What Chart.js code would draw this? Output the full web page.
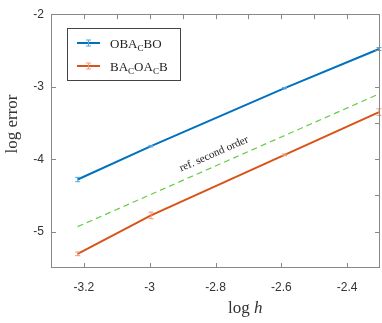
<!DOCTYPE html>
<html>
<head>
<meta charset="utf-8">
<script src="https://cdn.jsdelivr.net/npm/chart.js@4.4.0/dist/chart.umd.min.js"></script>
<style>
  html, body { margin: 0; padding: 0; background: #fff; }
</style>
</head>
<body>
<canvas id="chart" width="382" height="323"></canvas>
<script>
// x = log h, y = log error
const logH = [-3.219, -2.996, -2.590, -2.303];
const errOBACBO = [-4.28, -3.82, -3.02, -2.48];
const errBACOACB = [-5.305, -4.775, -3.94, -3.35];
// half heights of the small error bars
const barOBACBO = [0.03, 0.01, 0.01, 0.02];
const barBACOACB = [0.025, 0.045, 0.012, 0.045];
// reference second order line
const refX = [-3.219, -2.303];
const refY = [-4.93, -3.10];

const xTicks = [-3.2, -3, -2.8, -2.6, -2.4];
const xTicksTop = [-3.2, -3.1, -3, -2.9, -2.8, -2.7, -2.6, -2.5, -2.4];
const yTicks = [-5, -4, -3, -2];
const yTicksRight = [-5, -4.5, -4, -3.5, -3, -2.5];

// legend labels, [text, isSubscript]
const legendLabels = [
  [["OBA", 0], ["C", 1], ["BO", 0]],
  [["BA", 0], ["C", 1], ["OA", 0], ["C", 1], ["B", 0]],
];

const SERIF = "'Liberation Serif', 'Times New Roman', serif";
const SANS = "'Liberation Sans', Arial, sans-serif";

function toPoints(xs, ys) {
  return xs.map((x, i) => ({ x: x, y: ys[i] }));
}

function drawParts(ctx, parts, x, y, size) {
  parts.forEach(([text, sub]) => {
    ctx.font = (sub ? size * 0.7 : size) + "px " + SERIF;
    ctx.fillText(text, x, sub ? y + size * 0.25 : y);
    x += ctx.measureText(text).width;
  });
}

function errorGlyph(ctx, x, yTop, yBot, color) {
  ctx.strokeStyle = color;
  ctx.lineWidth = 1;
  ctx.beginPath();
  ctx.moveTo(x, yTop);
  ctx.lineTo(x, yBot);
  ctx.moveTo(x - 2.5, yTop);
  ctx.lineTo(x + 2.5, yTop);
  ctx.moveTo(x - 2.5, yBot);
  ctx.lineTo(x + 2.5, yBot);
  ctx.stroke();
}

const decorations = {
  id: "decorations",
  afterDatasetsDraw(chart) {
    const ctx = chart.ctx;
    const xs = chart.scales.x;
    const ys = chart.scales.y;
    ctx.save();
    chart.data.datasets.forEach((ds) => {
      if (!ds.errors) return;
      ds.data.forEach((p, i) => {
        const px = xs.getPixelForValue(p.x);
        errorGlyph(ctx, px, ys.getPixelForValue(p.y + ds.errors[i]),
          ys.getPixelForValue(p.y - ds.errors[i]), ds.barColor);
      });
    });
    ctx.restore();
  },
  afterDraw(chart) {
    const ctx = chart.ctx;
    const a = chart.chartArea;
    const xs = chart.scales.x;
    const ys = chart.scales.y;
    ctx.save();

    // box and inward ticks
    ctx.strokeStyle = "#888";
    ctx.lineWidth = 1;
    ctx.strokeRect(Math.round(a.left) + 0.5, Math.round(a.top) + 0.5,
      Math.round(a.right - a.left) - 1, Math.round(a.bottom - a.top) - 1);
    ctx.beginPath();
    const tl = 5;
    xTicks.forEach((v) => {
      const px = Math.round(xs.getPixelForValue(v)) + 0.5;
      ctx.moveTo(px, a.bottom);
      ctx.lineTo(px, a.bottom - tl);
    });
    xTicksTop.forEach((v) => {
      const px = Math.round(xs.getPixelForValue(v)) + 0.5;
      ctx.moveTo(px, a.top);
      ctx.lineTo(px, a.top + tl);
    });
    yTicks.forEach((v) => {
      const py = Math.round(ys.getPixelForValue(v)) + 0.5;
      ctx.moveTo(a.left, py);
      ctx.lineTo(a.left + tl, py);
    });
    yTicksRight.forEach((v) => {
      const py = Math.round(ys.getPixelForValue(v)) + 0.5;
      ctx.moveTo(a.right, py);
      ctx.lineTo(a.right - tl, py);
    });
    ctx.stroke();

    // axis titles
    ctx.fillStyle = "#333";
    ctx.textBaseline = "alphabetic";
    ctx.textAlign = "left";
    ctx.font = "17px " + SERIF;
    const logW = ctx.measureText("log ").width;
    ctx.fillText("log ", 228, 313);
    ctx.font = "italic 17px " + SERIF;
    ctx.fillText("h", 228 + logW, 313);

    ctx.save();
    ctx.translate(17, 124);
    ctx.rotate(-Math.PI / 2);
    ctx.font = "17px " + SERIF;
    ctx.textAlign = "center";
    ctx.fillText("log error", 0, 0);
    ctx.restore();

    // reference line annotation
    const rx0 = xs.getPixelForValue(refX[0]), ry0 = ys.getPixelForValue(refY[0]);
    const rx1 = xs.getPixelForValue(refX[1]), ry1 = ys.getPixelForValue(refY[1]);
    const ang = Math.atan2(ry1 - ry0, rx1 - rx0);
    ctx.save();
    ctx.translate(214, 154);
    ctx.rotate(ang);
    ctx.font = "11px " + SERIF;
    ctx.textAlign = "center";
    ctx.textBaseline = "middle";
    ctx.fillStyle = "#222";
    ctx.fillText("ref. second order", 0, 0);
    ctx.restore();

    // legend
    const lx = 67, ly = 28, lw = 113, lh = 52;
    ctx.fillStyle = "#fff";
    ctx.fillRect(lx, ly, lw, lh);
    ctx.strokeStyle = "#444";
    ctx.lineWidth = 1;
    ctx.strokeRect(lx + 0.5, ly + 0.5, lw, lh);
    const rows = [43, 66];
    [0, 1].forEach((i) => {
      const ds = chart.data.datasets[i];
      const y = rows[i];
      ctx.strokeStyle = ds.borderColor;
      ctx.lineWidth = 2;
      ctx.beginPath();
      ctx.moveTo(77, y);
      ctx.lineTo(100, y);
      ctx.stroke();
      errorGlyph(ctx, 88.5, y - 3, y + 3, ds.barColor);
      ctx.fillStyle = "#222";
      ctx.textAlign = "left";
      ctx.textBaseline = "alphabetic";
      drawParts(ctx, legendLabels[i], 110, y + 4.5, 13);
    });

    ctx.restore();
  },
};

const ctx = document.getElementById("chart").getContext("2d");
new Chart(ctx, {
  type: "line",
  data: {
    datasets: [
      {
        label: "OBACBO",
        data: toPoints(logH, errOBACBO),
        borderColor: "#0072BD",
        borderWidth: 2,
        pointRadius: 0,
        errors: barOBACBO,
        barColor: "#52a7e0",
      },
      {
        label: "BACOACB",
        data: toPoints(logH, errBACOACB),
        borderColor: "#D95319",
        borderWidth: 2,
        pointRadius: 0,
        errors: barBACOACB,
        barColor: "#ee9a78",
      },
      {
        label: "ref. second order",
        data: toPoints(refX, refY),
        borderColor: "#66cc44",
        borderWidth: 1.2,
        borderDash: [6, 4],
        pointRadius: 0,
      },
    ],
  },
  options: {
    responsive: false,
    animation: false,
    layout: { padding: { top: 9, right: 2, left: 0, bottom: 0 } },
    plugins: {
      legend: { display: false },
      tooltip: { enabled: false },
    },
    scales: {
      x: {
        type: "linear",
        min: -3.3,
        max: -2.3,
        afterBuildTicks: (s) => { s.ticks = xTicks.map((v) => ({ value: v })); },
        afterFit: (s) => { s.height = 55; },
        grid: { display: false, drawTicks: false },
        border: { display: false },
        ticks: {
          padding: 12,
          color: "#333",
          font: { family: SANS, size: 12 },
          callback: (v) => String(v),
        },
      },
      y: {
        type: "linear",
        min: -5.5,
        max: -2,
        afterBuildTicks: (s) => { s.ticks = yTicks.map((v) => ({ value: v })); },
        afterFit: (s) => { s.width = 51; },
        grid: { display: false, drawTicks: false },
        border: { display: false },
        ticks: {
          padding: 7,
          color: "#333",
          font: { family: SANS, size: 12 },
          callback: (v) => String(v),
        },
      },
    },
  },
  plugins: [decorations],
});
</script>
</body>
</html>
